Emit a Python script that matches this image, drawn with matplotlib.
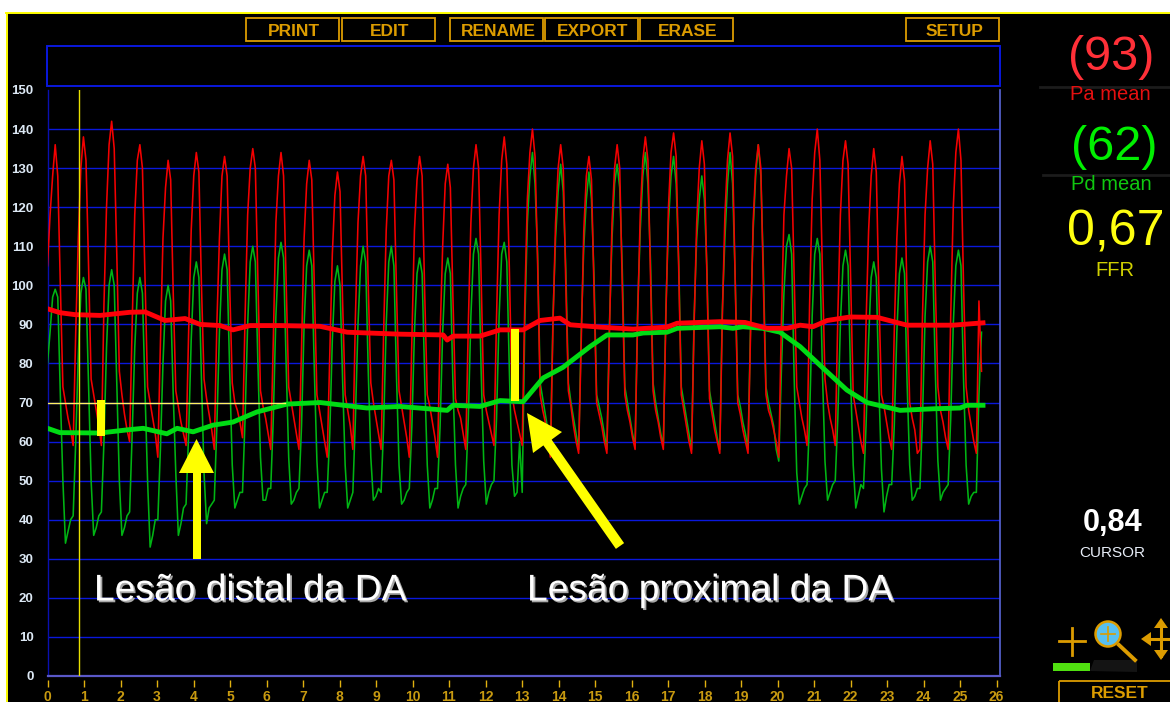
#!/usr/bin/env python3
import matplotlib
matplotlib.use('Agg')
import matplotlib.pyplot as plt
import matplotlib.patheffects as pe
from matplotlib.patches import Rectangle, Polygon, Circle
import numpy as np

plt.rcParams['font.family'] = ['Liberation Sans', 'DejaVu Sans']

dt = 0.0703
pa_wave = [
    105, 118, 128, 136, 128, 100, 74, 70, 66, 63,
    59, 88, 112, 130, 138, 132, 105, 76, 72, 68, 64,
    59, 95, 120, 136, 142, 135, 108, 78, 72, 67, 63,
    60, 90, 118, 132, 136, 130, 102, 74, 70, 66, 62,
    56, 85, 112, 125, 132, 127, 98, 73, 69, 65, 62,
    59, 88, 114, 128, 134, 129, 100, 76, 71, 67, 63,
    58, 90, 112, 128, 133, 128, 100, 75, 70, 68, 65,
    61, 92, 118, 130, 135, 130, 102, 73, 69, 66, 62,
    58, 86, 116, 128, 134, 128, 101, 74, 70, 66, 62,
    58, 84, 112, 126, 132, 127, 99, 72, 68, 64, 60,
    56, 82, 108, 123, 129, 124, 96, 72, 68, 64,
    58, 92, 116, 128, 133, 128, 100, 75, 70, 66, 62,
    58, 88, 114, 128, 132, 127, 99, 73, 69, 65, 61,
    56, 86, 114, 127, 133, 128, 98, 72, 69, 65, 61,
    56, 87, 110, 126, 131, 125, 97, 71, 68, 66, 62,
    58, 90, 116, 130, 136, 130, 102, 72, 68, 65, 62,
    59, 92, 118, 132, 138, 131, 104, 72, 68, 65, 62,
    59, 95, 122, 134, 140, 133, 106, 72, 68, 65, 61,
    56, 90, 116, 130, 136, 130, 100, 73, 69, 64, 60,
    57, 86, 114, 128, 133, 127, 98, 70, 67, 64, 60,
    57, 88, 116, 130, 136, 130, 100, 72, 68, 65, 61,
    58, 92, 118, 132, 138, 132, 102, 73, 68, 65, 61,
    58, 92, 120, 134, 139, 133, 104, 72, 68, 64, 60,
    57, 90, 116, 130, 137, 131, 102, 71, 67, 63, 60,
    57, 92, 118, 132, 139, 133, 102, 70, 67, 63, 60,
    57, 88, 116, 130, 136, 130, 100, 72, 68, 66, 63, 60,
    56, 90, 118, 128, 135, 130, 102, 74, 70, 66, 63,
    59, 95, 122, 134, 140, 132, 104, 76, 70, 66, 63,
    59, 92, 118, 132, 137, 131, 102, 72, 68, 64, 60,
    57, 90, 114, 128, 135, 129, 98, 72, 69, 65, 61,
    58, 88, 112, 126, 133, 127, 97, 70, 66, 63, 57,
    58, 92, 118, 130, 137, 131, 100, 74, 68, 65, 61,
    58, 92, 120, 134, 140, 132, 100, 74, 68, 64, 60,
    57, 96, 78,
]
pd_wave = [
    80, 88, 97, 99, 97, 72, 50, 34, 37, 40,
    41, 60, 82, 98, 102, 99, 74, 50, 36, 38, 41,
    42, 60, 84, 100, 104, 100, 75, 50, 36, 38, 41,
    42, 62, 84, 98, 102, 98, 73, 50, 33, 36, 40,
    40, 58, 80, 96, 100, 96, 72, 52, 36, 39, 43,
    44, 62, 86, 102, 106, 102, 76, 52, 39, 43, 44,
    45, 64, 88, 104, 108, 104, 78, 54, 43, 45, 47,
    47, 66, 90, 106, 110, 106, 80, 56, 45, 45, 48,
    48, 66, 92, 107, 111, 107, 80, 56, 44, 45, 47,
    48, 64, 90, 105, 109, 105, 78, 55, 43, 45, 47,
    47, 62, 86, 101, 105, 100, 76, 54, 43, 45,
    47, 66, 90, 105, 110, 106, 78, 56, 45, 46, 48,
    47, 64, 90, 106, 110, 105, 77, 54, 44, 45, 47,
    48, 64, 88, 103, 107, 103, 76, 54, 43, 45, 48,
    48, 64, 88, 103, 107, 103, 75, 54, 43, 46, 48,
    49, 66, 92, 108, 112, 108, 78, 55, 44, 47, 49,
    50, 66, 92, 108, 111, 106, 78, 54, 46, 47, 60,
    47, 90, 116, 128, 134, 126, 108, 75, 71, 67, 63,
    57, 92, 112, 124, 131, 124, 104, 75, 70, 66, 62,
    58, 88, 110, 122, 129, 122, 102, 72, 69, 66, 62,
    58, 90, 112, 126, 131, 125, 104, 74, 70, 66, 62,
    59, 94, 114, 128, 134, 126, 106, 75, 70, 66, 62,
    59, 94, 116, 128, 133, 126, 106, 74, 70, 66, 62,
    58, 92, 112, 122, 128, 122, 104, 73, 69, 65, 61,
    58, 94, 112, 126, 134, 126, 102, 72, 69, 65, 62,
    58, 90, 114, 128, 136, 128, 104, 74, 70, 67, 64, 58,
    55, 78, 98, 110, 113, 108, 76, 52, 44, 46, 48,
    49, 66, 92, 108, 112, 108, 78, 55, 45, 47, 49,
    50, 66, 90, 105, 109, 105, 76, 54, 43, 46, 49,
    48, 64, 86, 102, 106, 102, 74, 53, 42, 46, 49,
    49, 64, 88, 103, 107, 103, 75, 54, 45, 46, 48,
    48, 66, 92, 106, 110, 106, 78, 55, 45, 47, 48,
    49, 66, 90, 105, 109, 105, 76, 54, 44, 46, 47,
    47, 72, 88,
]

# running means
pa_mean_x = [0, .34, .75, 1.44, 2.26, 2.67, 3.22, 3.77, 4.18, 4.73, 5.08, 5.55, 6.37, 7.47, 8.21, 9.66,
             10.84, 10.95, 11.11, 11.85, 12.4, 13.03, 13.49, 14.04, 14.32, 15.14, 16.04, 16.97, 17.25,
             18.42, 19.11, 19.71, 20.26, 20.62, 20.97, 21.36, 21.99, 22.73, 23.55, 24.81, 25.63]
pa_mean_y = [94, 93, 92.5, 92.3, 93.1, 93.2, 91, 91.5, 90, 89.7, 88.6, 89.7, 89.7, 89.5, 88, 87.5,
             87.3, 86, 87, 87, 88.6, 88.6, 91, 91.6, 89.9, 89.3, 88.8, 89.3, 90.3,
             90.7, 90.5, 89, 89, 89.8, 89.4, 91, 91.9, 91.8, 89.8, 89.8, 90.4]
pd_mean_x = [0, .34, 1.44, 2.18, 2.62, 3.27, 3.55, 3.99, 4.53, 5.08, 5.74, 6.56, 7.47, 8.75, 9.66,
             10.95, 11.11, 11.85, 12.4, 13.03, 13.58, 14.12, 14.86, 15.33, 16.04, 16.32, 16.97, 17.25,
             18.42, 18.78, 19.05, 19.6, 20.07, 20.62, 21.25, 21.9, 22.45, 23.36, 24.27, 25.0, 25.19, 25.63]
pd_mean_y = [63.4, 62.3, 62.2, 63, 63.4, 62, 63.4, 62.5, 64.2, 65, 67.6, 69.6, 70, 68.6, 69,
             68, 69.3, 69, 70.5, 70.2, 76.3, 79, 84.3, 87.3, 87.3, 87.8, 88, 89,
             89.4, 89, 89.4, 89, 88, 84.3, 78.8, 73.2, 70, 68, 68.4, 68.6, 69.3, 69.3]

x_ticks = list(range(0, 27))
y_ticks = list(range(0, 160, 10))
cursor_x = 0.863
ref_y = 70
ref_x_end = 6.5
buttons = ['PRINT', 'EDIT', 'RENAME', 'EXPORT', 'ERASE', 'SETUP']
button_left = [246, 342, 450, 545, 640, 906]

ORANGE = '#dc9c00'
BLUE = '#0a18dc'

fig = plt.figure(figsize=(11.7, 7.02), dpi=100, facecolor='black')
ax = fig.add_axes([47.5 / 1170, 26 / 702, 952.5 / 1170, 586 / 702], facecolor='black')
ax.set_xlim(0, 952.5 / 36.5)
ax.set_ylim(0, 150)

ax.set_yticks(y_ticks)
ax.set_xticks(x_ticks)
ax.tick_params(axis='y', length=0, pad=10, labelsize=9.5, labelcolor='#dce8f4')
ax.tick_params(axis='x', length=0, pad=10, labelsize=10, labelcolor='#c89a10')
for lab in ax.get_yticklabels():
    lab.set_fontweight('bold')
for lab in ax.get_xticklabels():
    lab.set_fontweight('bold')
ax.yaxis.grid(True, color=BLUE, lw=1.0, zorder=1)
ax.xaxis.grid(False)
ax.yaxis.get_gridlines()[-1].set_visible(False)
ax.set_axisbelow(True)
ax.spines['top'].set_visible(False)
ax.spines['left'].set_color('#0a10b0')
ax.spines['right'].set_color('#5a66d8')
ax.spines['bottom'].set_color('#5a58c8')
ax.spines['left'].set_linewidth(1.0)
ax.spines['right'].set_linewidth(1.2)
ax.spines['bottom'].set_linewidth(1.6)

# x ticks float a little below the axis
tr = ax.get_xaxis_transform()
ax.vlines(x_ticks, -4 / 586, -11 / 586, color='#e0b010', lw=1.0, transform=tr, clip_on=False)

t = np.arange(len(pa_wave)) * dt
ax.plot(t, pd_wave, color='#00b414', lw=1.15, zorder=3)
ax.plot(t, pa_wave, color='#f40000', lw=1.15, zorder=4)
ax.plot(pd_mean_x, pd_mean_y, color='#00dc14', lw=3.5, zorder=5)
ax.plot(pa_mean_x, pa_mean_y, color='#ff0008', lw=3.5, zorder=6)

ax.axvline(cursor_x, color='#e8e000', lw=1.0, zorder=7)
ax.plot([0, ref_x_end], [ref_y, ref_y], color='#fff060', lw=1.0, zorder=7)
ax.add_patch(Rectangle((1.356, 61.4), 0.22, 9.2, color='#ffff00', zorder=8, lw=0))
ax.add_patch(Rectangle((12.7, 70.3), 0.22, 18.4, color='#ffff00', zorder=8, lw=0))

# everything else sits on a pixel overlay
ui = fig.add_axes([0, 0, 1, 1], facecolor='none')
ui.set_xlim(0, 1170)
ui.set_ylim(702, 0)
ui.axis('off')

ui.add_patch(Rectangle((0, 0), 1170, 12.5, color='white', lw=0))
ui.add_patch(Rectangle((0, 0), 6, 702, color='white', lw=0))
ui.plot([6, 1170], [13.2, 13.2], color='#ffff00', lw=1.4)
ui.plot([7, 7], [13, 702], color='#ffff00', lw=1.4)

ui.add_patch(Rectangle((47, 45.5), 953, 40.5, fill=False, edgecolor=BLUE, lw=1.4))

for name, left in zip(buttons, button_left):
    ui.add_patch(Rectangle((left, 18), 93, 23, fill=False, edgecolor=ORANGE, lw=1.3))
    ui.text(left + 48, 31, name, color=ORANGE, fontsize=12.5, fontweight='bold', ha='center', va='center')

# annotation arrows
ui.add_patch(Polygon([(196.5, 439), (214, 473), (201, 473), (201, 559), (193, 559), (193, 473), (179, 473)],
                     color='#ffff00', lw=0))
ui.add_patch(Polygon([(527, 413), (562, 432), (551.6, 439.6), (624.1, 543.1), (615.9, 548.9), (543.4, 445.4), (533, 453)],
                     color='#ffff00', lw=0))
shadow = [pe.withSimplePatchShadow(offset=(1.3, -1.3), shadow_rgbFace='#a8a8a8', alpha=1)]
ui.text(94, 591, 'Lesão distal da DA', color='white', fontsize=26.8, va='center', ha='left', path_effects=shadow)
ui.text(527, 591, 'Lesão proximal da DA', color='white', fontsize=26.8, va='center', ha='left', path_effects=shadow)

# right hand panel
ui.plot([1040, 1170], [87, 87], color='#1c1c1c', lw=2)
ui.plot([1043, 1170], [175, 175], color='#1c1c1c', lw=2)
ui.text(1111, 58, '(93)', color='#ff3038', fontsize=35, ha='center', va='center')
ui.text(1110, 95, 'Pa mean', color='#e41010', fontsize=14.5, ha='center', va='center')
ui.text(1114, 148, '(62)', color='#00f000', fontsize=35, ha='center', va='center')
ui.text(1111, 185, 'Pd mean', color='#10c810', fontsize=14.5, ha='center', va='center')
ui.text(1116, 232, '0,67', color='#ffff10', fontsize=36, ha='center', va='center')
ui.text(1115, 271, 'FFR', color='#d0d000', fontsize=14.5, ha='center', va='center')
ui.text(1113, 523, '0,84', color='white', fontsize=22, fontweight='bold', ha='center', va='center')
ui.text(1112, 553, 'CURSOR', color='#e8eef8', fontsize=11, ha='center', va='center')

# toolbar icons
ui.plot([1059, 1085], [641, 641], color=ORANGE, lw=2)
ui.plot([1072, 1072], [628, 655], color=ORANGE, lw=2)
ui.plot([1119, 1135], [645, 660], color=ORANGE, lw=2.8)
ui.add_patch(Circle((1108, 634), 12.5, facecolor='#58c0f0', edgecolor=ORANGE, lw=1.8))
ui.plot([1101, 1115], [634, 634], color=ORANGE, lw=1.2)
ui.plot([1108, 1108], [627, 641], color=ORANGE, lw=1.2)
ui.plot([1161, 1161], [624, 656], color=ORANGE, lw=2.2)
ui.plot([1146, 1170], [639, 639], color=ORANGE, lw=2.2)
ui.add_patch(Polygon([(1161, 618), (1154, 628), (1168, 628)], color=ORANGE, lw=0))
ui.add_patch(Polygon([(1161, 660), (1154, 650), (1168, 650)], color=ORANGE, lw=0))
ui.add_patch(Polygon([(1141, 639), (1151, 632), (1151, 646)], color=ORANGE, lw=0))
ui.add_patch(Rectangle((1053, 663), 37, 8, color='#50e010', lw=0))
ui.add_patch(Polygon([(1090, 671), (1094, 660), (1137, 660), (1137, 672)], color='#141414', lw=0))
ui.add_patch(Rectangle((1058.5, 681), 120, 30, fill=False, edgecolor=ORANGE, lw=1.3))
ui.text(1120, 693, 'RESET', color=ORANGE, fontsize=12.5, fontweight='bold', ha='center', va='center')

plt.savefig('out.png', dpi=100, facecolor='black')
